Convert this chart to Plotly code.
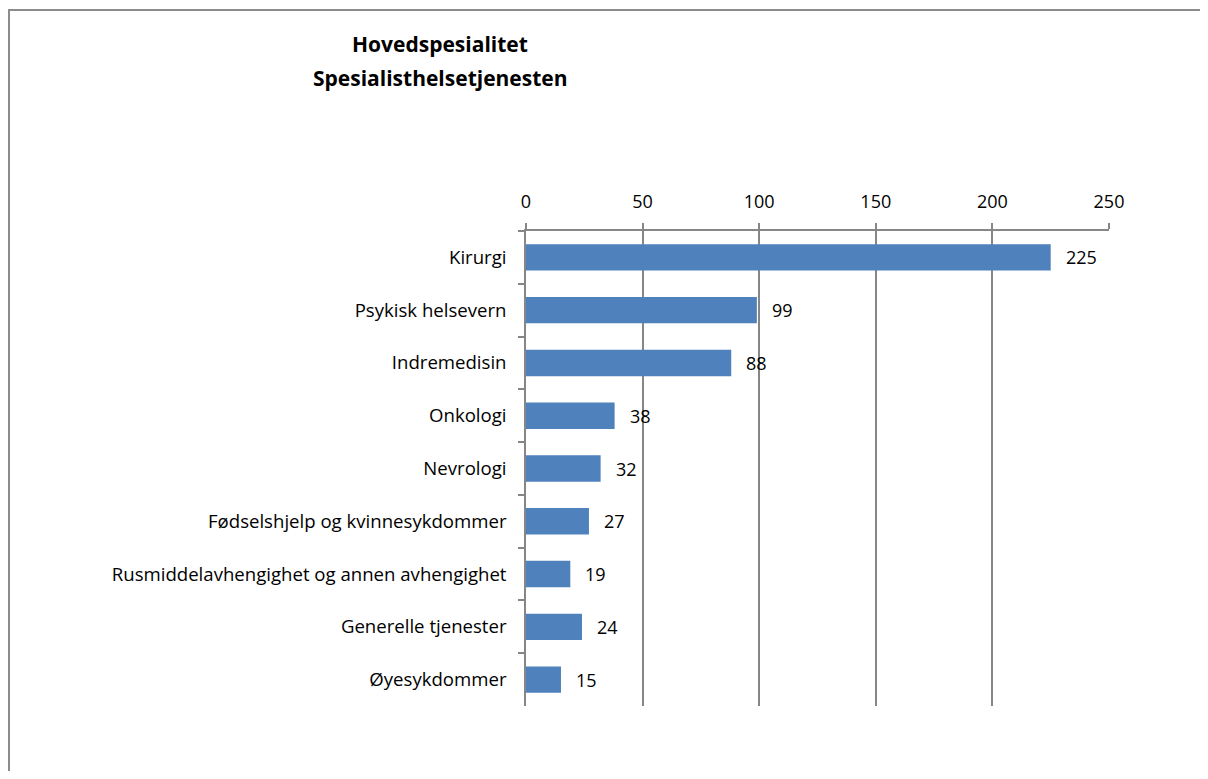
import plotly.graph_objects as go

categories = ["Kirurgi", "Psykisk helsevern", "Indremedisin", "Onkologi", "Nevrologi",
              "Fødselshjelp og kvinnesykdommer", "Rusmiddelavhengighet og annen avhengighet",
              "Generelle tjenester", "Øyesykdommer"]
values = [225, 99, 88, 38, 32, 27, 19, 24, 15]
x_ticks = [0, 50, 100, 150, 200, 250]
title_lines = ["Hovedspesialitet", "Spesialisthelsetjenesten"]

FONT = "Open Sans"
OFF = 8  # page body margin
W, H = 1208 - 2 * OFF, 779 - 2 * OFF
# target pixel coordinates in the screenshot
PL, PR, PT, PB = 526, 1109, 231, 706
L, T = PL - OFF, PT - OFF
R = W - (PR - OFF)
B = H - (PB - OFF)
pw, ph = PR - PL, PB - PT

def px(x):
    return (x - PL) / pw

def py(y):
    return (PB - y) / ph

fig = go.Figure(go.Bar(
    x=values, y=categories, orientation="h",
    marker=dict(color="#4F81BD", line=dict(width=0)),
    width=0.5,
))

for c, v in zip(categories, values):
    fig.add_annotation(x=v, y=c, text=str(v), showarrow=False, xanchor="left",
                       xshift=13, font=dict(family=FONT, size=18, color="#000000"))

for line, yc in zip(title_lines, [44, 78]):
    fig.add_annotation(x=px(440), y=py(yc), xref="paper", yref="paper",
                       text="<b>" + line + "</b>",
                       showarrow=False, xanchor="center", yanchor="middle",
                       font=dict(family=FONT, size=21, color="#000000"))

fig.add_shape(type="rect", xref="paper", yref="paper",
              x0=px(9), x1=px(1240), y0=py(10), y1=py(820),
              line=dict(color="#8C8C8C", width=2), layer="below")

fig.update_layout(
    width=W, height=H,
    margin=dict(l=L, r=R, t=T, b=B),
    paper_bgcolor="white", plot_bgcolor="white",
    showlegend=False,
    font=dict(family=FONT, size=18, color="#000000"),
)
fig.update_xaxes(side="top", range=[0, 250], tickvals=x_ticks,
                 showgrid=True, gridcolor="#868686", gridwidth=1.5,
                 showline=True, linecolor="#868686", linewidth=1.5, mirror=False,
                 ticks="outside", ticklen=6, tickcolor="#868686", tickwidth=1.5,
                 ticklabelstandoff=8,
                 tickfont=dict(family=FONT, size=18), zeroline=False)
fig.update_yaxes(autorange="reversed", showline=True, linecolor="#868686", linewidth=1.5,
                 ticks="outside", tickson="boundaries", ticklen=6, tickcolor="#868686",
                 tickwidth=1.5, ticklabelstandoff=14, showgrid=False,
                 tickfont=dict(family=FONT, size=18.6))

fig.write_html("out.html")
